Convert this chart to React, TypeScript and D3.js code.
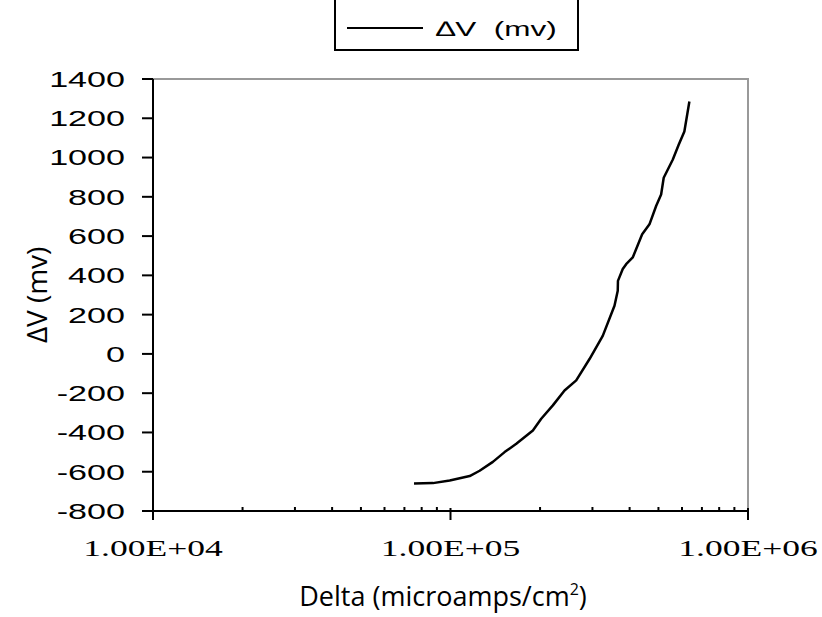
import * as d3 from "d3";
import { useEffect, useRef } from "react";

// current density (microamps/cm2) and potential shift (mv)
const delta = [75400, 87300, 99400, 116000, 125300, 138800, 152000, 166400, 189200, 201800,
  220800, 241700, 264600, 293300, 324900, 355800, 364900, 365500, 379300, 389400,
  409800, 440800, 466400, 491100, 510500, 520800, 558400, 584800, 611100, 635300];
const dV = [-660, -658, -645, -622, -595, -550, -500, -458, -390, -330,
  -262, -186, -135, -26, 92, 245, 322, 372, 432, 457,
  491, 609, 660, 753, 812, 897, 989, 1065, 1133, 1285];

const yTicks = [1400, 1200, 1000, 800, 600, 400, 200, 0, -200, -400, -600, -800];
const xMajor = [1e4, 1e5, 1e6];
const xMinor = [2e4, 3e4, 4e4, 5e4, 6e4, 7e4, 8e4, 9e4, 2e5, 3e5, 4e5, 5e5, 6e5, 7e5, 8e5, 9e5];
const seriesName = "\u2206V  (mv)";

export default function App() {
  const svgRef = useRef<SVGSVGElement>(null);

  useEffect(() => {
    if (!svgRef.current) return;
    const svg = d3.select(svgRef.current);
    svg.selectAll("*").remove();

    const width = 822;
    const height = 617;
    const left = 153, right = 748, top = 79, bottom = 511;
    // the old chart's tick fonts are stretched sideways
    const stretch = 1.55;

    svg.attr("width", width).attr("height", height);

    const x = d3.scaleLog().domain([1e4, 1e6]).range([left, right]);
    const y = d3.scaleLinear().domain([-800, 1400]).range([bottom, top]);

    // plot area frame (grey top and right)
    svg.append("path")
      .attr("d", `M${left},${top}H${right}V${bottom}`)
      .attr("fill", "none")
      .attr("stroke", "#999")
      .attr("stroke-width", 2);

    // y axis
    const gy = svg.append("g");
    gy.append("line")
      .attr("x1", left).attr("x2", left)
      .attr("y1", top).attr("y2", bottom + 9)
      .attr("stroke", "#000").attr("stroke-width", 2);
    gy.selectAll("line.tick")
      .data(yTicks)
      .join("line")
      .attr("class", "tick")
      .attr("x1", left - 11).attr("x2", left)
      .attr("y1", d => y(d)).attr("y2", d => y(d))
      .attr("stroke", "#000").attr("stroke-width", 2);
    gy.selectAll("text")
      .data(yTicks)
      .join("text")
      .attr("transform", d => `translate(${left - 28},${y(d)}) scale(${stretch},1)`)
      .attr("dy", "0.36em")
      .attr("text-anchor", "end")
      .attr("font-family", "'Liberation Sans', Arial, sans-serif")
      .attr("font-size", 22)
      .text(d => d);

    // x axis
    const gx = svg.append("g");
    gx.append("line")
      .attr("x1", left - 11).attr("x2", right)
      .attr("y1", bottom).attr("y2", bottom)
      .attr("stroke", "#000").attr("stroke-width", 2);
    gx.selectAll("line.major")
      .data(xMajor)
      .join("line")
      .attr("class", "major")
      .attr("x1", d => x(d)).attr("x2", d => x(d))
      .attr("y1", bottom - 3).attr("y2", bottom + 9)
      .attr("stroke", "#000").attr("stroke-width", 2);
    gx.selectAll("line.minor")
      .data(xMinor)
      .join("line")
      .attr("class", "minor")
      .attr("x1", d => x(d)).attr("x2", d => x(d))
      .attr("y1", bottom - 4).attr("y2", bottom)
      .attr("stroke", "#000").attr("stroke-width", 2);
    gx.selectAll("text")
      .data(xMajor)
      .join("text")
      .attr("transform", d => `translate(${x(d)},556) scale(1.48,1)`)
      .attr("text-anchor", "middle")
      .attr("font-family", "'Liberation Serif', 'Times New Roman', serif")
      .attr("font-size", 24)
      .text(d => d3.format(".2e")(d).replace("e+", "E+0").toUpperCase());

    // axis titles
    const xt = svg.append("text")
      .attr("x", 443)
      .attr("y", 606)
      .attr("text-anchor", "middle")
      .attr("font-family", "'Open Sans', 'Noto Sans', sans-serif")
      .attr("font-size", 27)
      .text("Delta (microamps/cm");
    xt.append("tspan").attr("dy", -11).attr("font-size", 16).text("2");
    xt.append("tspan").attr("dy", 11).text(")");

    svg.append("text")
      .attr("transform", `translate(47,${(top + bottom) / 2}) rotate(-90)`)
      .attr("text-anchor", "middle")
      .attr("font-family", "'Open Sans', 'Noto Sans', sans-serif")
      .attr("font-size", 28)
      .text("\u2206V (mv)");

    // data line
    const line = d3.line<number>()
      .x((_, i) => x(delta[i]))
      .y(d => y(d));
    svg.append("path")
      .attr("d", line(dV))
      .attr("fill", "none")
      .attr("stroke", "#000")
      .attr("stroke-width", 2.5)
      .attr("stroke-linejoin", "round");

    // legend, its top edge runs off the page
    const lg = svg.append("g");
    lg.append("rect")
      .attr("x", 335).attr("y", -4)
      .attr("width", 243).attr("height", 54)
      .attr("fill", "#fff")
      .attr("stroke", "#000").attr("stroke-width", 2);
    lg.append("line")
      .attr("x1", 347).attr("x2", 423)
      .attr("y1", 28).attr("y2", 28)
      .attr("stroke", "#000").attr("stroke-width", 2);
    lg.append("text")
      .attr("transform", `translate(436,36) scale(1.5,1)`)
      .attr("font-family", "'Liberation Sans', Arial, sans-serif")
      .attr("font-size", 21)
      .attr("xml:space", "preserve")
      .style("white-space", "pre")
      .text(seriesName);
  }, []);

  return (
    <svg ref={svgRef} style={{ position: "absolute", left: 0, top: 0, background: "#fff" }} />
  );
}
